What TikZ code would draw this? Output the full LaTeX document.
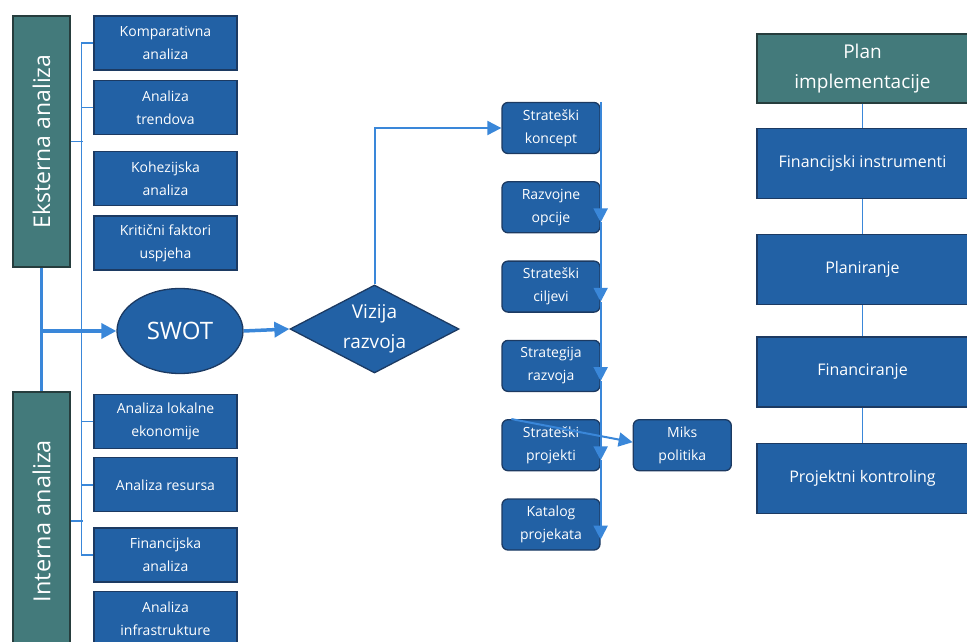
\documentclass[tikz,border=0pt]{standalone}
\usepackage{fontspec}
\setmainfont{Open Sans}
\usetikzlibrary{shapes.geometric, arrows.meta, positioning}
\definecolor{boxblue}{HTML}{2261A5}
\definecolor{boxedge}{HTML}{1C3A62}
\definecolor{headteal}{HTML}{437A7B}
\definecolor{headedge}{HTML}{263D3D}
\definecolor{linkblue}{HTML}{3A87D9}

\begin{document}
\begin{tikzpicture}[
    x=1pt, y=-1pt,
    node distance=9pt,
    head/.style={rectangle, draw=headedge, line width=1.3pt, fill=headteal, text=white, align=center},
    item/.style={rectangle, minimum width=143pt, minimum height=54pt, inner sep=2pt, align=center, draw=boxedge, line width=1.3pt, fill=boxblue, text=white, font=\fontsize{14}{23}\selectfont},
    stratbox/.style={rectangle, rounded corners=6pt, minimum width=98pt, minimum height=51pt, inner sep=1pt, align=center, draw=boxedge, line width=1.3pt, fill=boxblue, text=white, font=\fontsize{14}{23}\selectfont},
    planbox/.style={rectangle, minimum width=211pt, minimum height=70pt, align=center, draw=boxedge, line width=1.3pt, fill=boxblue, text=white, font=\fontsize{16}{22}\selectfont},
    tree/.style={draw=linkblue, line width=1.6pt},
    trunk/.style={draw=linkblue, line width=3.5pt},
    arrow/.style={trunk, -{Triangle[length=15pt, width=15pt]}},
    flow/.style={draw=linkblue, line width=2pt, -{Triangle[length=14pt, width=14pt]}}
]
\clip (0,0) rectangle (967,642);

% Eksterna analiza
\node (eks) [head, minimum width=57pt, minimum height=251pt, font=\fontsize{23}{26}\selectfont] at (41.5,141.5) {\rotatebox{90}{Eksterna analiza}};
\node (komp) [item] at (165.5,43) {Komparativna\\analiza};
\node (trend) [item, below=of komp] {Analiza\\trendova};
\node (koh) [item, below=16pt of trend] {Kohezijska\\analiza};
\node (krit) [item, below=of koh] {Kritični faktori\\uspjeha};

% Interna analiza
\node (int) [head, minimum width=57pt, minimum height=258pt, font=\fontsize{23.5}{26}\selectfont] at (41.5,521) {\rotatebox{90}{Interna analiza}};
\node (lok) [item] at (165.5,421.5) {Analiza lokalne\\ekonomije};
\node (res) [item, below=8pt of lok] {Analiza resursa};
\node (fin) [item, below=15pt of res] {Financijska\\analiza};
\node (infra) [item, below=8pt of fin] {Analiza\\infrastrukture};

% SWOT i vizija
\node (swot) [ellipse, minimum width=126pt, minimum height=85pt, draw=boxedge, line width=1.3pt, fill=boxblue, text=white, font=\fontsize{24}{28}\selectfont] at (180,331) {SWOT};
\node (viz) [diamond, aspect=2, inner sep=0pt, minimum width=169pt, minimum height=88pt, align=center, draw=boxedge, line width=1.3pt, fill=boxblue, text=white, font=\fontsize{19}{30}\selectfont] at (374.5,329) {Vizija\\razvoja};

% Strateski dio
\node (koncept) [stratbox] at (551,128) {Strateški\\koncept};
\node (opcije) [stratbox, below=27pt of koncept] {Razvojne\\opcije};
\node (ciljevi) [stratbox, below=27pt of opcije] {Strateški\\ciljevi};
\node (strat) [stratbox, below=27pt of ciljevi] {Strategija\\razvoja};
\node (projekti) [stratbox, below=27pt of strat] {Strateški\\projekti};
\node (katalog) [stratbox, below=27pt of projekti] {Katalog\\projekata};
\node (miks) [stratbox, right=32pt of projekti] {Miks\\politika};

% Plan implementacije
\node (plan) [head, minimum width=211pt, minimum height=69pt, font=\fontsize{19}{30}\selectfont] at (862.5,68.5) {Plan\\implementacije};
\node (instr) [planbox, below=24pt of plan] {Financijski instrumenti};
\node (planir) [planbox, below=35pt of instr] {Planiranje};
\node (financ) [planbox, below=31pt of planir] {Financiranje};
\node (kontrol) [planbox, below=35pt of financ] {Projektni kontroling};

% Lines
\draw [tree] (komp.west) -- ++(-12,0) |- (fin.west);
\draw [tree] (trend.west) -- ++(-12,0);
\draw [tree] (eks.east) -- ++(12,0);
\draw [tree] (lok.west) -- ++(-12,0);
\draw [tree] (res.west) -- ++(-12,0);
\draw [tree] (int.east) -- ++(12,0);
\draw [trunk] (eks.south) -- (int.north);
\draw [arrow] (eks.south |- swot.west) -- (swot.west);
\draw [arrow] (swot.east) -- (viz.west);
\draw [flow] (viz.north) |- (koncept.west);
\draw [flow] (koncept.north east) -- ([yshift=11pt]opcije.south east);
\draw [flow] ([yshift=11pt]opcije.south east) -- ([yshift=11pt]ciljevi.south east);
\draw [flow] ([yshift=11pt]ciljevi.south east) -- ([yshift=11pt]strat.south east);
\draw [flow] ([yshift=11pt]strat.south east) -- ([yshift=11pt]projekti.south east);
\draw [flow] ([yshift=11pt]projekti.south east) -- ([yshift=11pt]katalog.south east);
\draw [flow] ([xshift=10pt]projekti.north west) -- ([yshift=3pt]miks.west);
\draw [tree] (plan) -- (instr);
\draw [tree] (instr) -- (planir);
\draw [tree] (planir) -- (financ);
\draw [tree] (financ) -- (kontrol);

\end{tikzpicture}
\end{document}
